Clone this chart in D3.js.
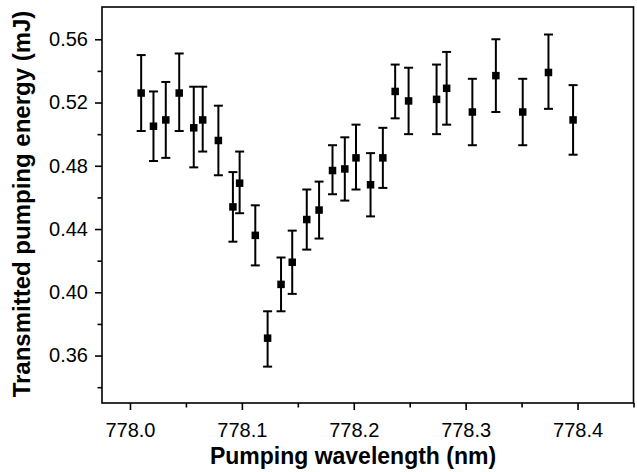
<!DOCTYPE html>
<html><head><meta charset="utf-8">
<script src="https://cdn.jsdelivr.net/npm/d3@7"></script>
<style>
html,body{margin:0;padding:0;background:#fff;}
svg{display:block;}
</style></head>
<body>
<svg id="chart" width="637" height="472"></svg>
<script>
// Data
const wavelengths = [778.010, 778.021, 778.032, 778.044, 778.057, 778.065, 778.079, 778.092, 778.098, 778.112,
  778.123, 778.135, 778.145, 778.158, 778.169, 778.181, 778.192, 778.202, 778.215, 778.226,
  778.237, 778.249, 778.274, 778.283, 778.306, 778.327, 778.351, 778.374, 778.396];
const energies = [0.526, 0.505, 0.509, 0.526, 0.504, 0.509, 0.496, 0.454, 0.469, 0.436,
  0.371, 0.405, 0.419, 0.446, 0.452, 0.477, 0.478, 0.485, 0.468, 0.485,
  0.527, 0.521, 0.522, 0.529, 0.514, 0.537, 0.514, 0.539, 0.509];
const errUpper = [0.550, 0.527, 0.533, 0.551, 0.530, 0.530, 0.518, 0.476, 0.489, 0.455,
  0.388, 0.422, 0.439, 0.465, 0.470, 0.493, 0.498, 0.506, 0.488, 0.504,
  0.544, 0.542, 0.544, 0.552, 0.535, 0.560, 0.535, 0.563, 0.531];
const errLower = [0.502, 0.483, 0.485, 0.502, 0.479, 0.489, 0.474, 0.432, 0.450, 0.417,
  0.353, 0.388, 0.399, 0.427, 0.434, 0.462, 0.458, 0.465, 0.448, 0.466,
  0.510, 0.500, 0.500, 0.506, 0.493, 0.514, 0.493, 0.516, 0.487];
const xMajorTicks = [778.0, 778.1, 778.2, 778.3, 778.4];
const xMinorTicks = [778.05, 778.15, 778.25, 778.35, 778.45];
const yMajorTicks = [0.36, 0.40, 0.44, 0.48, 0.52, 0.56];
const yMinorTicks = [0.34, 0.38, 0.42, 0.46, 0.50, 0.54];
const xTitle = "Pumping wavelength (nm)";
const yTitle = "Transmitted pumping energy (mJ)";

const W = 637, H = 472;
const margin = {left: 102, top: 7, right: 3.5, bottom: 69};
const svg = d3.select("#chart");
const x = d3.scaleLinear().domain([777.975, 778.45]).range([margin.left, W - margin.right]);
const y = d3.scaleLinear().domain([0.33, 0.5804]).range([H - margin.bottom, margin.top]);
const font = "'Liberation Sans', Arial, Helvetica, sans-serif";

// frame
svg.append("rect")
  .attr("x", x(777.975)).attr("y", y(0.5804))
  .attr("width", x(778.45) - x(777.975)).attr("height", y(0.33) - y(0.5804))
  .attr("fill", "none").attr("stroke", "#000").attr("stroke-width", 1.6);

// x axis
const xAxis = svg.append("g").attr("transform", `translate(0,${y(0.33)})`);
xAxis.call(d3.axisBottom(x).tickValues(xMajorTicks).tickSize(7).tickPadding(13).tickFormat(d3.format(".1f")));
xAxis.append("g").call(d3.axisBottom(x).tickValues(xMinorTicks).tickSize(4.5).tickFormat(""));
xAxis.selectAll(".domain").remove();
xAxis.selectAll("line").attr("stroke", "#000").attr("stroke-width", 1.6);
xAxis.selectAll("text").attr("font-family", font).attr("font-size", 20).attr("fill", "#000");

// y axis
const yAxis = svg.append("g").attr("transform", `translate(${x(777.975)},0)`);
yAxis.call(d3.axisLeft(y).tickValues(yMajorTicks).tickSize(7).tickPadding(7).tickFormat(d3.format(".2f")));
yAxis.append("g").call(d3.axisLeft(y).tickValues(yMinorTicks).tickSize(4.5).tickFormat(""));
yAxis.selectAll(".domain").remove();
yAxis.selectAll("line").attr("stroke", "#000").attr("stroke-width", 1.6);
yAxis.selectAll("text").attr("font-family", font).attr("font-size", 20).attr("fill", "#000");

// titles
svg.append("text").attr("x", 353).attr("y", 464)
  .attr("text-anchor", "middle").attr("font-family", font).attr("font-weight", "bold")
  .attr("font-size", 23).text(xTitle);
svg.append("text").attr("transform", `translate(30,${(y(0.33) + y(0.5804)) / 2 - 1}) rotate(-90)`)
  .attr("text-anchor", "middle").attr("font-family", font).attr("font-weight", "bold")
  .attr("font-size", 24).text(yTitle);

// error bars and markers
const pts = wavelengths.map((w, i) => ({w, e: energies[i], hi: errUpper[i], lo: errLower[i]}));
const g = svg.append("g");
const cap = 4.5;
pts.forEach(p => {
  const cx = x(p.w);
  g.append("line").attr("x1", cx).attr("x2", cx).attr("y1", y(p.hi)).attr("y2", y(p.lo))
    .attr("stroke", "#000").attr("stroke-width", 2);
  [p.hi, p.lo].forEach(v => {
    g.append("line").attr("x1", cx - cap).attr("x2", cx + cap).attr("y1", y(v)).attr("y2", y(v))
      .attr("stroke", "#000").attr("stroke-width", 2);
  });
});
const s = 7.5;
g.selectAll("rect.pt").data(pts).join("rect").attr("class", "pt")
  .attr("x", d => x(d.w) - s / 2).attr("y", d => y(d.e) - s / 2)
  .attr("width", s).attr("height", s).attr("fill", "#000");
</script>
</body></html>
